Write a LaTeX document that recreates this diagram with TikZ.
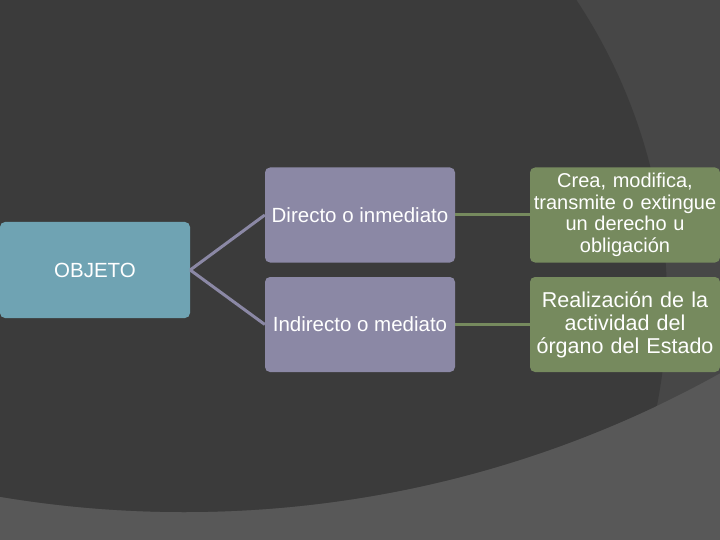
\documentclass[tikz,border=0pt]{standalone}
\usepackage{fontspec}
\setmainfont{Liberation Sans}
\definecolor{bgdark}{HTML}{3B3B3B}
\definecolor{bgmid}{HTML}{474747}
\definecolor{bglight}{HTML}{585858}
\definecolor{teal}{HTML}{6FA3B3}
\definecolor{lilac}{HTML}{8B88A5}
\definecolor{olive}{HTML}{768A5E}
\tikzset{
  box/.style={rectangle, rounded corners=5pt, inner sep=0pt, text=white, align=center,
    minimum width=190pt, minimum height=95pt},
  objbox/.style={box, fill=teal, minimum height=96pt, font=\fontsize{20.5}{24}\selectfont},
  midbox/.style={box, fill=lilac, font=\fontsize{20.5}{24}\selectfont},
  endbox/.style={box, fill=olive, text width=186pt},
  lconn/.style={draw=lilac, line width=3pt},
  gconn/.style={draw=olive, line width=3pt}
}
\begin{document}
\begin{tikzpicture}[x=1pt,y=-1pt]
\useasboundingbox (0,0) rectangle (720,540);
\fill[bglight] (0,0) rectangle (720,540);
\begin{scope}
  \clip (184,-591) circle[radius=1103pt];
  \fill[bgmid] (0,0) rectangle (720,540);
  \fill[bgdark] (122,301) circle[radius=545pt];
\end{scope}
\node[objbox] (obj) at (95,270) {OBJETO};
\node[midbox] (dir) at (360,215) {Directo o inmediato};
\node[midbox] (ind) at (360,324.5) {Indirecto o mediato};
\node[endbox, font=\fontsize{20}{21.5}\selectfont] (crea) at (625,215) {Crea, modifica,\\transmite o extingue\\un derecho u\\obligación};
\node[endbox, font=\fontsize{21.5}{23}\selectfont] (real) at (625,324.5) {Realización de la\\actividad del\\órgano del Estado};
\draw[lconn] (obj.east) -- (dir.west);
\draw[lconn] (obj.east) -- (ind.west);
\draw[gconn] (dir.east) -- (crea.west);
\draw[gconn] (ind.east) -- (real.west);
\end{tikzpicture}
\end{document}
